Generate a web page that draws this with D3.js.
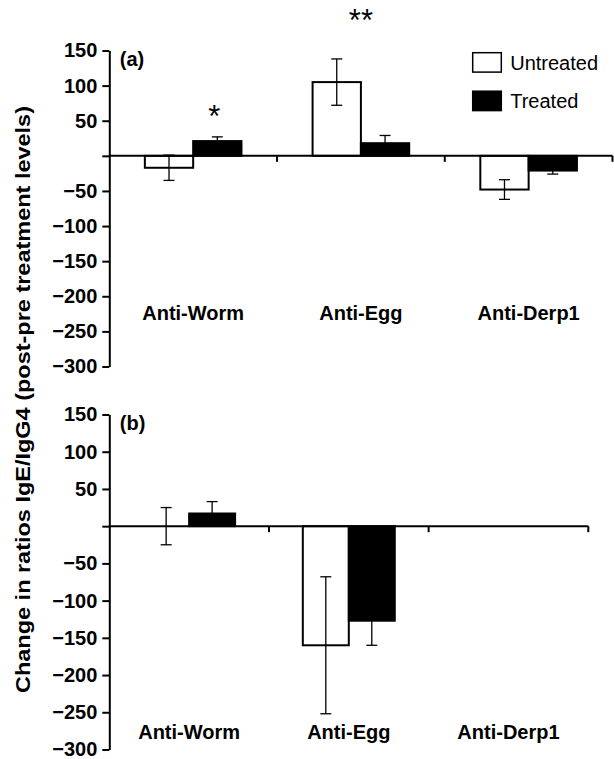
<!DOCTYPE html>
<html>
<head>
<meta charset="utf-8">
<script src="https://cdn.jsdelivr.net/npm/d3@7"></script>
<style>
  html, body { margin: 0; padding: 0; background: #fff; }
  svg { display: block; }
  text { font-family: "Liberation Sans", Arial, Helvetica, sans-serif; fill: #000; }
</style>
</head>
<body>
<svg id="chart" width="614" height="759"></svg>
<script>
// ---------- data ----------
const categories = ["Anti-Worm", "Anti-Egg", "Anti-Derp1"];
const groups = ["Untreated", "Treated"];
const yTickValues = [150, 100, 50, 0, -50, -100, -150, -200, -250, -300];

// panel (a)
const aUntreated    = [-17, 105, -48];
const aUntreatedErr = [18, 33, 14];
const aTreated      = [21, 18, -21];
const aTreatedErr   = [6, 11, 5];
const aMarks = [
  { category: "Anti-Worm", group: "Treated", text: "*",  value: 67 },
  { category: "Anti-Egg",  group: null,      text: "**", value: 204 }
];

// panel (b)
const bUntreated    = [0, -160, null];
const bUntreatedErr = [25, 92, null];
const bTreated      = [17, -127, null];
const bTreatedErr   = [16, 33, null];
const bMarks = [];

const titleText = "Change in ratios IgE/IgG4 (post-pre treatment levels)";

// ---------- layout ----------
const svg = d3.select("#chart");
const FONT = '"Liberation Sans", Arial, Helvetica, sans-serif';

const panels = [
  { id: "(a)", x0: 109.3, x1: 612.5, yTop: 50.5, yBot: 366.5, labelValue: -234,
    untreated: aUntreated, untreatedErr: aUntreatedErr, treated: aTreated, treatedErr: aTreatedErr, marks: aMarks },
  { id: "(b)", x0: 109.3, x1: 588.3, yTop: 414.5, yBot: 749.5, labelValue: -285.5,
    untreated: bUntreated, untreatedErr: bUntreatedErr, treated: bTreated, treatedErr: bTreatedErr, marks: bMarks }
];

function fmt(v) {
  if (v === 0) return "";
  return v < 0 ? "\u2212" + Math.abs(v) : String(v);
}

panels.forEach(p => {
  const g = svg.append("g");
  const y = d3.scaleLinear().domain([-300, 150]).range([p.yBot, p.yTop]);
  const x = d3.scaleBand().domain(categories).range([p.x0, p.x1]).paddingInner(0).paddingOuter(0);
  const bw = x.bandwidth();
  const xg = d3.scaleBand().domain(groups).range([0.212 * bw, 0.788 * bw]).padding(0);

  // bars
  const series = [
    { group: "Untreated", vals: p.untreated, errs: p.untreatedErr, fill: "#fff" },
    { group: "Treated",   vals: p.treated,   errs: p.treatedErr,   fill: "#000" }
  ];
  const barData = [];
  series.forEach(s => {
    categories.forEach((c, i) => {
      if (s.vals[i] === null || s.vals[i] === undefined) return;
      barData.push({ category: c, group: s.group, value: s.vals[i], err: s.errs[i], fill: s.fill });
    });
  });

  g.selectAll("rect.bar").data(barData).join("rect")
    .attr("class", "bar")
    .attr("x", d => x(d.category) + xg(d.group))
    .attr("width", xg.bandwidth())
    .attr("y", d => y(Math.max(0, d.value)))
    .attr("height", d => Math.abs(y(d.value) - y(0)))
    .attr("fill", d => d.fill)
    .attr("stroke", "#000")
    .attr("stroke-width", 2);

  // error bars
  const eg = g.selectAll("g.err").data(barData).join("g").attr("class", "err")
    .attr("stroke", "#000").attr("stroke-width", 1.3);
  const cx = d => x(d.category) + xg(d.group) + xg.bandwidth() / 2;
  eg.append("line")
    .attr("x1", cx).attr("x2", cx)
    .attr("y1", d => y(d.value + d.err)).attr("y2", d => y(d.value - d.err));
  eg.append("line")
    .attr("x1", d => cx(d) - 5.5).attr("x2", d => cx(d) + 5.5)
    .attr("y1", d => y(d.value + d.err)).attr("y2", d => y(d.value + d.err));
  eg.append("line")
    .attr("x1", d => cx(d) - 5.5).attr("x2", d => cx(d) + 5.5)
    .attr("y1", d => y(d.value - d.err)).attr("y2", d => y(d.value - d.err));

  // x axis line at zero with category boundary ticks
  g.append("line")
    .attr("x1", p.x0).attr("x2", p.x1)
    .attr("y1", y(0)).attr("y2", y(0))
    .attr("stroke", "#000").attr("stroke-width", 2);
  g.selectAll("line.xtick").data(categories).join("line")
    .attr("class", "xtick")
    .attr("x1", c => x(c) + bw).attr("x2", c => x(c) + bw)
    .attr("y1", y(0)).attr("y2", y(0) + 6)
    .attr("stroke", "#000").attr("stroke-width", 2);

  // y axis
  const yAxis = d3.axisLeft(y).tickValues(yTickValues).tickFormat(fmt)
    .tickSize(7).tickSizeOuter(0).tickPadding(5);
  const ya = g.append("g").attr("transform", `translate(${p.x0},0)`).call(yAxis);
  ya.select(".domain").attr("stroke-width", 2);
  ya.selectAll(".tick line").attr("stroke-width", 2);
  ya.selectAll(".tick text")
    .attr("font-family", FONT).attr("font-size", 20).attr("font-weight", "bold").attr("fill", "#000");

  // category labels
  g.selectAll("text.cat").data(categories).join("text")
    .attr("class", "cat")
    .attr("x", c => x(c) + bw / 2)
    .attr("y", y(p.labelValue))
    .attr("text-anchor", "middle")
    .attr("font-size", 20).attr("font-weight", "bold")
    .text(c => c);

  // panel id
  g.append("text")
    .attr("x", p.x0 + 10.5).attr("y", y(150) + 15)
    .attr("font-size", 20).attr("font-weight", "bold")
    .text(p.id);

  // significance marks
  g.selectAll("text.sig").data(p.marks).join("text")
    .attr("class", "sig")
    .attr("x", d => d.group ? x(d.category) + xg(d.group) + xg.bandwidth() / 2 - 3 : x(d.category) + bw / 2)
    .attr("y", d => y(d.value))
    .attr("dy", "0.6em")
    .attr("text-anchor", "middle")
    .attr("font-size", 31)
    .text(d => d.text);
});

// legend
const legend = svg.append("g").attr("transform", "translate(472.7,52.7)");
groups.forEach((grp, i) => {
  legend.append("rect")
    .attr("x", 0).attr("y", i * 38.5)
    .attr("width", 28.6).attr("height", 19.4)
    .attr("fill", grp === "Untreated" ? "#fff" : "#000")
    .attr("stroke", "#000").attr("stroke-width", 1.5);
  legend.append("text")
    .attr("x", 37.5).attr("y", 16.8 + i * 38.4)
    .attr("font-size", 20)
    .text(grp);
});

// y title
svg.append("text")
  .attr("transform", "translate(30,399.5) rotate(-90)")
  .attr("text-anchor", "middle")
  .attr("font-size", 20).attr("font-weight", "bold")
  .attr("textLength", 587).attr("lengthAdjust", "spacingAndGlyphs")
  .text(titleText);
</script>
</body>
</html>
